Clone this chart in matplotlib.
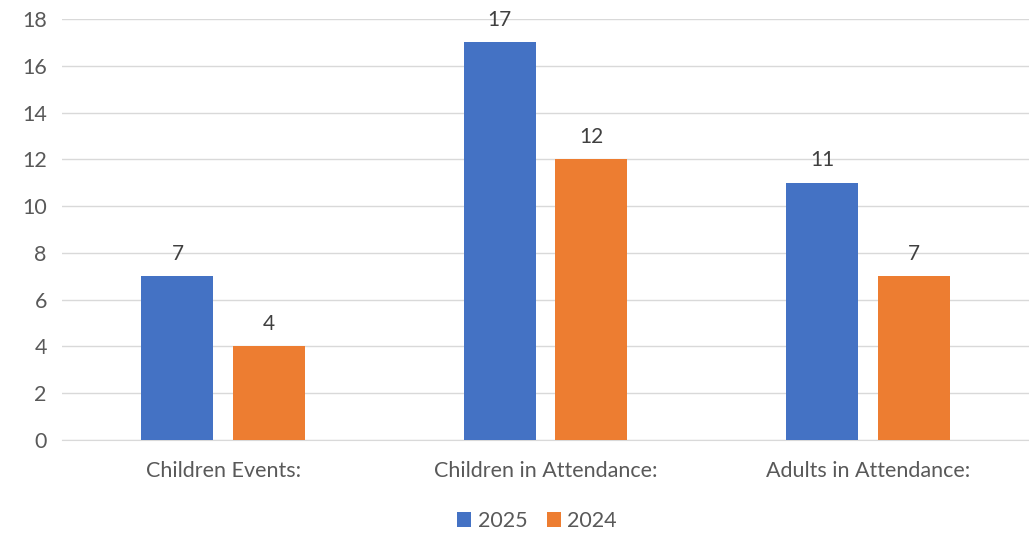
import numpy as np
import matplotlib.pyplot as plt

categories = ['Children Events:', 'Children in Attendance:', 'Adults in Attendance:']
values_2025 = [7, 17, 11]
values_2024 = [4, 12, 7]

blue = '#4472C4'
orange = '#ED7D31'
text_color = '#595959'

plt.rcParams['font.family'] = ['Lato', 'DejaVu Sans']

fig = plt.figure(figsize=(10.29, 5.37), dpi=100)
ax = fig.add_axes([0.0603, 0.1806, 0.9397, 0.784])

x = np.arange(len(categories))
width = 0.223
offset = 0.142
b1 = ax.bar(x - offset, values_2025, width, color=blue, label='2025', zorder=3)
b2 = ax.bar(x + offset, values_2024, width, color=orange, label='2024', zorder=3)

for bars in (b1, b2):
    for rect in bars:
        ax.annotate(f'{rect.get_height():g}',
                    (rect.get_x() + rect.get_width() / 2, rect.get_height()),
                    xytext=(0, 9), textcoords='offset points',
                    ha='center', va='bottom', fontsize=15, color='#404040')

ax.set_xlim(-0.5, 2.5)
ax.set_ylim(0, 18)
ax.set_yticks(range(0, 19, 2))
ax.set_xticks(x)
ax.set_xticklabels(categories)
ax.tick_params(axis='both', length=0, labelsize=15.5, labelcolor=text_color)
ax.tick_params(axis='x', pad=15)
ax.tick_params(axis='y', pad=11)
ax.grid(axis='y', color='#D9D9D9', linewidth=1, zorder=0)
for side in ('top', 'right', 'left'):
    ax.spines[side].set_visible(False)
ax.spines['bottom'].set_color('#D9D9D9')

fig.legend(loc='lower center', bbox_to_anchor=(0.522, -0.025), ncol=2, frameon=False,
           fontsize=15.5, handlelength=0.65, handleheight=0.65, columnspacing=0.9,
           handletextpad=0.3, labelcolor=text_color)

fig.savefig('out.png', dpi=100)
